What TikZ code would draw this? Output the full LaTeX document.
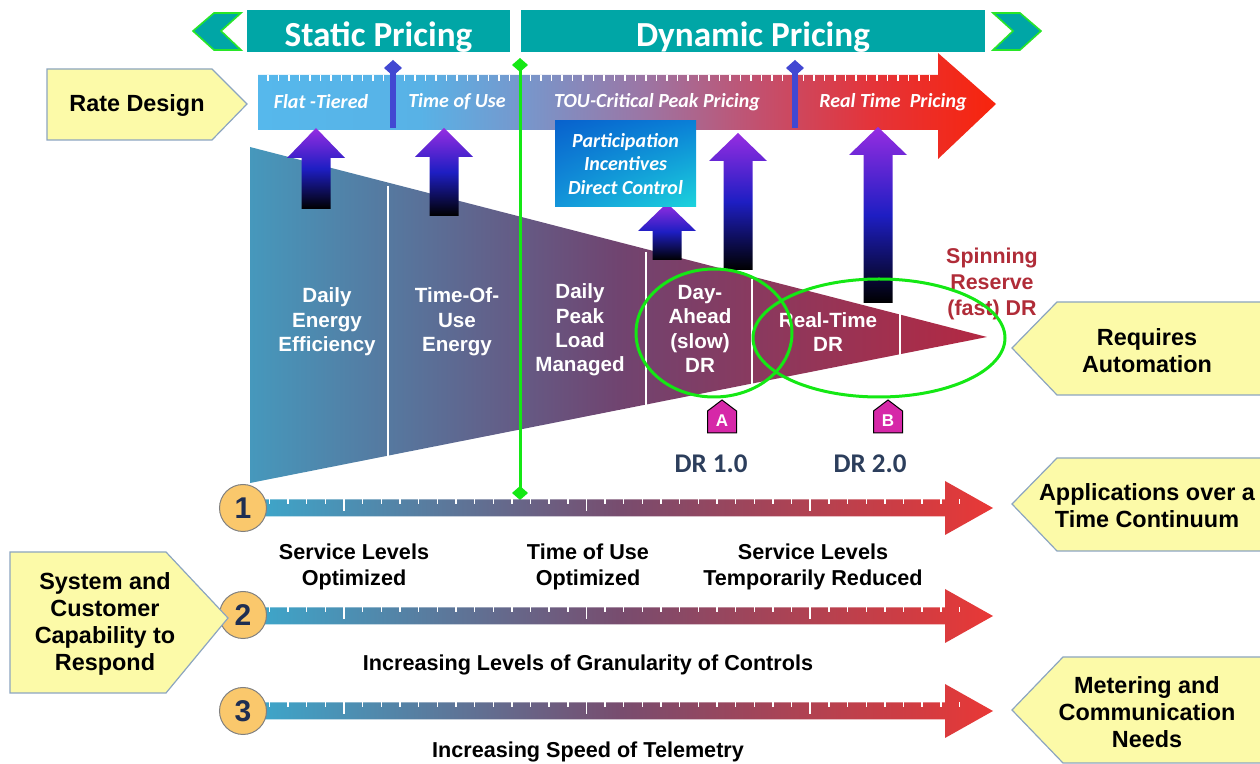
\documentclass[tikz,border=0pt]{standalone}
\usepackage{fontspec}
\setmainfont{Liberation Sans}
\newfontfamily\calfont{Carlito}
\usetikzlibrary{arrows.meta,shadings}

\definecolor{bannerteal}{RGB}{0,166,166}
\definecolor{chevgreen}{RGB}{40,230,40}
\definecolor{rb0}{RGB}{86,184,236}
\definecolor{rb1}{RGB}{88,178,230}
\definecolor{rb2}{RGB}{118,152,205}
\definecolor{rb3}{RGB}{155,118,165}
\definecolor{rb4}{RGB}{195,80,110}
\definecolor{rb5}{RGB}{228,52,58}
\definecolor{rb6}{RGB}{248,36,12}
\definecolor{triL}{RGB}{70,152,188}
\definecolor{triM}{RGB}{112,68,112}
\definecolor{triR}{RGB}{180,40,66}
\definecolor{lineL}{RGB}{60,168,204}
\definecolor{lineM}{RGB}{120,76,110}
\definecolor{lineR}{RGB}{233,56,54}
\definecolor{arrtop}{RGB}{150,45,225}
\definecolor{arrmid}{RGB}{30,30,195}
\definecolor{markblue}{RGB}{66,72,210}
\definecolor{drgreen}{RGB}{20,232,20}
\definecolor{pinkmark}{RGB}{214,40,168}
\definecolor{drslate}{RGB}{44,62,92}
\definecolor{spinred}{RGB}{176,44,56}
\definecolor{callfill}{RGB}{252,250,168}
\definecolor{calledge}{RGB}{140,165,192}
\definecolor{numfill}{RGB}{250,200,108}
\definecolor{numtext}{RGB}{30,46,82}
\definecolor{partUL}{RGB}{8,98,205}
\definecolor{partUR}{RGB}{10,128,215}
\definecolor{partLL}{RGB}{20,150,218}
\definecolor{partLR}{RGB}{28,212,220}

\pgfdeclarehorizontalshading{ratebar}{100bp}{color(0bp)=(rb0); color(25bp)=(rb0);
  color(36bp)=(rb1); color(42.75bp)=(rb2); color(51bp)=(rb3); color(59bp)=(rb4);
  color(66.5bp)=(rb5); color(75bp)=(rb6); color(100bp)=(rb6)}

% x, tip y, head base y, bottom y
\newcommand{\liftarrow}[4]{%
  \shade[top color=arrtop,bottom color=black,middle color=arrmid]
    (#1,#2) -- (#1+29,#3) -- (#1+14.5,#3) -- (#1+14.5,#4) -- (#1-14.5,#4)
    -- (#1-14.5,#3) -- (#1-29,#3) -- cycle;}
% centre y of a time line
\newcommand{\timeline}[1]{%
  \shade[left color=lineL,right color=lineR,middle color=lineM]
    (250,#1-8.5) -- (945,#1-8.5) -- (945,#1-27) -- (993,#1) -- (945,#1+27)
    -- (945,#1+8.5) -- (250,#1+8.5) -- cycle;
  \foreach \k in {-4,...,33} \draw[white,line width=0.7pt] ({344+18.65*\k},#1-8.5) -- ++(0,5);
  \foreach \k in {0,13,25} \draw[white,line width=0.9pt] ({344+18.65*\k},#1-8.5) -- ++(0,12);}
% x of a house marker, letter, name
\newcommand{\housemark}[3]{%
  \draw[fill=pinkmark,line width=0.5pt] (#1-14.5,433) -- (#1-14.5,411) -- (#1,400)
    -- (#1+14.5,411) -- (#1+14.5,433) -- cycle;
  \node (#3) [text=white,font=\fontsize{8.5}{9}\selectfont\bfseries] at (#1,421) {#2};}

\begin{document}
\begin{tikzpicture}[x=0.5pt,y=-0.5pt]
\tikzstyle{banner}=[fill=bannerteal,text=white,minimum height=21pt,inner sep=0pt,
  text height=16.5pt,text depth=1pt,font=\calfont\fontsize{17.6}{18}\selectfont\bfseries]
\tikzstyle{chevron}=[fill=bannerteal,draw=chevgreen,line width=0.8pt]
\tikzstyle{ratelabel}=[text=white,font=\calfont\fontsize{10}{12}\selectfont\bfseries\itshape]
\tikzstyle{trilabel}=[text=white,align=center,font=\fontsize{10.3}{12.2}\selectfont\bfseries]
\tikzstyle{rowlabel}=[align=center,font=\fontsize{10.8}{13}\selectfont\bfseries]
\tikzstyle{callout}=[fill=callfill,draw=calledge,line width=0.6pt]
\tikzstyle{calltext}=[align=center,font=\fontsize{11.7}{13.5}\selectfont\bfseries]
\tikzstyle{numcircle}=[circle,fill=numfill,draw=gray,line width=0.5pt,minimum size=23.5pt,
  inner sep=0pt,text=numtext,font=\fontsize{15}{15}\selectfont\bfseries]
\tikzstyle{drtext}=[text=drslate,font=\calfont\fontsize{13.5}{14}\selectfont\bfseries]
\tikzstyle{marker}=[markblue,line width=3pt,-{Diamond[length=8pt,width=9pt]}]
\clip (0,0) rectangle (1260,764);

% pricing banners
\draw[chevron] (193,31) -- (214,13) -- (241,13) -- (221,31) -- (241,50) -- (214,50) -- cycle;
\draw[chevron] (993,13) -- (1020,13) -- (1041,31) -- (1020,50) -- (993,50) -- (1013,31) -- cycle;
\node (static) [banner,minimum width=131.5pt] at (378.5,31) {Static Pricing};
\node (dynamic) [banner,minimum width=232pt] at (753,31) {Dynamic Pricing};

% rate design bar
\shade[shading=ratebar]
  (258,75) -- (938,75) -- (938,53) -- (996,104) -- (938,159) -- (938,130) -- (258,130) -- cycle;
\foreach \x in {268,278.5,...,930} \draw[white,line width=0.6pt] (\x,75) -- (\x,81);
\node (flat) [ratelabel] at (321,102) {Flat -Tiered};
\node (tou) [ratelabel] at (457,102) {Time of Use};
\node (cpp) [ratelabel] at (657,102) {TOU-Critical Peak Pricing};
\node (rtp) [ratelabel] at (893,102) {Real Time~ Pricing};
\draw[marker] (393,128) -- (393,60);
\draw[marker] (795,128) -- (795,60);

% funnel
\shade[left color=triL,right color=triR,middle color=triM]
  (250,147) -- (987,337) -- (250,483) -- cycle;
\draw[white,line width=1.1pt] (388,186) -- (388,456);
\draw[white,line width=1.1pt] (646,252) -- (646,405);
\draw[white,line width=1.1pt] (752,279) -- (752,384);
\draw[white,line width=1.1pt] (900,314) -- (900,355);
\node (eff) [trilabel] at (327,322) {Daily\\Energy\\Efficiency};
\node (touen) [trilabel] at (457,322) {Time-Of-\\Use\\Energy};
\node (peak) [trilabel] at (580,330) {Daily\\Peak\\Load\\Managed};
\node (dayah) [trilabel] at (700,329) {Day-\\Ahead\\(slow)\\DR};
\node (rtdr) [trilabel] at (828,332) {Real-Time\\DR};
\node (spin) [trilabel,text=spinred,font=\fontsize{10.7}{13}\selectfont\bfseries] at (992,284)
  {Spinning\\Reserve\\(fast) DR};

% lift arrows
\liftarrow{316}{128}{158}{209}
\liftarrow{444}{128}{157}{216}
\liftarrow{667}{203}{231}{260}
\liftarrow{738}{133}{161}{270}
\liftarrow{878}{127}{155}{303}

\node (partic) [minimum width=70.5pt,minimum height=43pt,inner sep=0pt,align=center,
  shade,upper left=partUL,upper right=partUR,lower left=partLL,lower right=partLR,
  text=white,font=\calfont\fontsize{10}{11.6}\selectfont\bfseries\itshape]
  at (625.5,164) {Participation\\Incentives\\Direct Control};

% DR circles
\draw[drgreen,line width=1.5pt] (714,333) ellipse (78 and 64);
\draw[drgreen,line width=1.5pt] (879,338) ellipse (126 and 59);
\draw[drgreen,line width=1.5pt,{Diamond[length=7pt,width=8pt]}-{Diamond[length=7pt,width=8pt]}]
  (520,58) -- (520,500);
\housemark{722}{A}{mka}
\housemark{888}{B}{mkb}
\node (dr1) [drtext] at (711,464) {DR 1.0};
\node (dr2) [drtext] at (870,464) {DR 2.0};

% time lines
\timeline{508}
\timeline{616}
\timeline{711}
\node (n1) [numcircle] at (243,508) {1};
\node (n2) [numcircle] at (243,615) {2};
\node (n3) [numcircle] at (243,711) {3};
\node (svcopt) [rowlabel] at (354,567) {Service Levels\\Optimized};
\node (touopt) [rowlabel] at (588,567) {Time of Use\\Optimized};
\node (svcred) [rowlabel] at (813,567) {Service Levels\\Temporarily Reduced};
\node (gran) [rowlabel] at (588,665) {Increasing Levels of Granularity of Controls};
\node (telem) [rowlabel] at (588,752) {Increasing Speed of Telemetry};

% call-outs
\draw[callout] (47,69) -- (212,69) -- (247,104) -- (212,140) -- (47,140) -- cycle;
\node (rate) [calltext] at (137,106) {Rate Design};
\draw[callout] (10,552) -- (166,552) -- (228,618) -- (166,693) -- (10,693) -- cycle;
\node (capab) [calltext] at (105,624) {System and\\Customer\\Capability to\\Respond};
\draw[callout] (1270,302) -- (1057,302) -- (1012,348) -- (1057,395) -- (1270,395);
\node (autom) [calltext] at (1147,351) {Requires\\Automation};
\draw[callout] (1270,458) -- (1057,458) -- (1012,504) -- (1057,551) -- (1270,551);
\node (contin) [calltext] at (1147,506) {Applications over a\\Time Continuum};
\draw[callout] (1270,657) -- (1063,657) -- (1012,710) -- (1063,763) -- (1270,763);
\node (meter) [calltext] at (1147,712) {Metering and\\Communication\\Needs};
\end{tikzpicture}
\end{document}
